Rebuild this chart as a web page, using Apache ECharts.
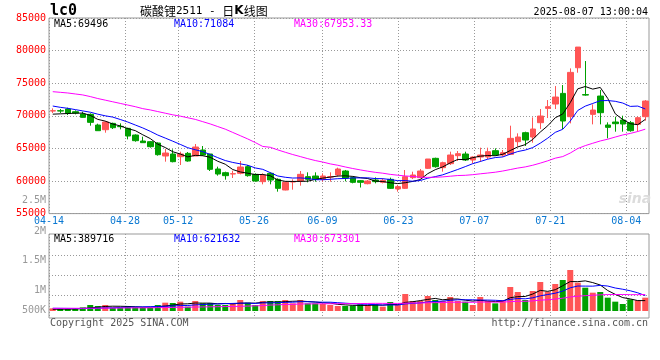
<!DOCTYPE html>
<html><head><meta charset="utf-8">
<script src="https://cdn.jsdelivr.net/npm/echarts@6/dist/echarts.min.js"></script>
<style>html,body{margin:0;padding:0;background:#fff}#c{width:660px;height:360px}</style>
</head><body><div id="c"></div>
<script>
const dates = ['04-14','04-15','04-16','04-17','04-18','04-21','04-22','04-23','04-24','04-25','04-28','04-29','04-30',
'05-06','05-07','05-08','05-09','05-12','05-13','05-14','05-15','05-16','05-19','05-20','05-21','05-22','05-23','05-26','05-27','05-28','05-29','05-30',
'06-03','06-04','06-05','06-06','06-09','06-10','06-11','06-12','06-13','06-16','06-17','06-18','06-19','06-20','06-23','06-24','06-25','06-26','06-27','06-30',
'07-01','07-02','07-03','07-04','07-07','07-08','07-09','07-10','07-11','07-14','07-15','07-16','07-17','07-18','07-21','07-22','07-23','07-24','07-25','07-28','07-29','07-30','07-31',
'08-01','08-04','08-05','08-06','08-07'];
const tickIdx = [0,10,17,27,36,46,56,66,76];

const opens = [70730,70782,71038,70629,70271,70220,68585,67870,68840,68380,68074,67052,66132,66030,65825,63832,64139,63730,64241,63832,
64752,64139,61840,61277,61073,61175,62197,61022,59898,61175,60255,58620,59850,60000,60664,60766,60255,60620,60920,61533,
60511,60050,59590,60150,59800,60255,58774,58876,60511,60511,61942,63475,62044,62657,63884,64139,63219,63679,63679,64650,
63986,64088,66030,67410,66745,68943,71140,71804,73439,69862,77374,73250,70220,73030,68585,69045,69351,68943,68687,69862];
const closes = [70782,70730,70373,70424,69760,68994,67716,69045,68176,68329,66899,66183,65877,65264,64037,64292,62964,64139,63066,65212,
63986,61788,61073,60818,61124,62146,60818,60000,60920,60153,58876,59796,59898,61022,60255,60255,60766,60664,61840,60450,
59796,59800,60000,59900,60100,58876,59131,60664,60920,61533,63373,62197,62811,63986,64190,63219,63679,63986,64497,63986,
64343,66541,66745,66285,67972,69965,71395,72877,69198,76659,80542,73180,70884,70475,68227,68790,68738,67716,69709,72264];
const highs = [71140,71040,71242,70833,70629,70373,68789,69198,68943,68840,68176,67154,66797,66132,65928,64906,64854,64497,64445,65672,
65366,64139,62197,61430,61584,63066,62453,61175,61175,61328,60409,60000,60255,61533,61328,61328,61175,61328,62044,61690,
60664,60150,60150,60560,60410,60511,59390,61686,61430,61840,63373,63577,62964,64497,64599,64497,63781,65110,65110,65008,
64752,68482,67307,67563,69760,71038,72417,74563,74716,77272,80542,78400,71753,73950,68994,69862,70015,69198,69862,72417];
const lows = [70420,70420,70118,70220,69709,68482,67716,67409,67972,67920,66388,66030,65877,65110,63884,62964,62862,62453,62964,63832,
63832,61533,60818,60204,60460,61022,60664,59898,59489,59489,58365,58570,58672,59285,59796,59898,59898,59898,60664,59950,
59643,59000,59490,59640,59640,58774,58365,58774,60300,60410,61840,62044,61430,62453,63066,63066,62708,62964,63373,63884,
63730,63986,65264,65366,65877,67972,69658,71038,67972,68840,76608,73080,68687,68687,66541,67563,67563,67563,67563,69249];
const volumes = [108000,81000,81000,81000,149000,244000,203000,244000,135000,135000,203000,149000,149000,135000,244000,338000,325000,379000,176000,406000,
311000,325000,244000,244000,325000,447000,338000,244000,406000,406000,406000,447000,311000,447000,311000,311000,284000,244000,203000,203000,
217000,271000,244000,271000,176000,365000,244000,690000,406000,406000,609000,447000,406000,568000,406000,379000,244000,568000,406000,311000,
447000,974000,771000,447000,812000,1177000,785000,1096000,1259000,1665000,1150000,947000,744000,771000,541000,379000,284000,474000,433000,541000];

// moving-average values for the first days (before a full window exists)
const ma5Head = [70250,70300,70350,70400];
const ma10Head = [71500,71300,71150,70950,70750,70550,70250,70000,69800];
const ma30Head = [73700,73600,73500,73350,73200,72950,72650,72400,72150,71900,71650,71400,71100,70900,70650,70400,70150,69950,69700,69450,69100,68750,68350,67950,67450,66950,66450,65900,65300];
const vma5Head = [70000,72000,75000,80000];
const vma10Head = [110000,108000,105000,102000,100000,105000,115000,125000,130000];
const vma30Head = [108000,108000,108000,110000,110000,112000,115000,118000,120000,122000,125000,128000,130000,132000,135000,140000,145000,150000,155000,160000,165000,170000,175000,180000,185000,190000,200000,210000,220000];

const priceLegend = ['MA5:69496','MA10:71084','MA30:67953.33'];
const volLegend = ['MA5:389716','MA10:621632','MA30:673301'];
const volLabels = ['2.5M','2M','1.5M','1M','500K'];

function ma(arr, n, head){
  return arr.map((_, i) => {
    if (i < head.length) return head[i];
    let s = 0; for (let k = i - n + 1; k <= i; k++) s += arr[k];
    return +(s / n).toFixed(2);
  });
}
const candle = opens.map((o, i) => [o, closes[i], lows[i], highs[i]]);
const RED = '#ff5555', GREEN = '#00a000';
const volData = volumes.map((v, i) => ({value: v, itemStyle: {color: closes[i] >= opens[i] ? RED : GREEN}}));

const MONO = 'DejaVu Sans Mono';
const gridLine = () => ({show: true, lineStyle: {color: '#999', type: [1, 2], width: 1, opacity: 1}});
const txt = (x, y, s, color, align) => ({type: 'text', x, y, style: {text: s, fill: color, font: '10px "' + MONO + '"', textAlign: align || 'left', textVerticalAlign: 'middle'}});

const chart = echarts.init(document.getElementById('c'), null, {renderer: 'canvas'});
chart.setOption({
  animation: false,
  backgroundColor: '#fff',
  grid: [
    {left: 49, top: 18, width: 600, height: 195.6, show: true, borderColor: '#999', borderWidth: 1, backgroundColor: 'rgba(0,0,0,0)', z: -1},
    {left: 49, top: 234, width: 600, height: 84, show: true, borderColor: '#999', borderWidth: 1, backgroundColor: 'rgba(0,0,0,0)', z: -1}
  ],
  xAxis: [
    {type: 'category', gridIndex: 0, data: dates, boundaryGap: true, position: 'top', axisLine: {show: false}, axisTick: {show: false}, axisLabel: {show: false}, splitLine: {show: false}},
    {type: 'value', gridIndex: 0, min: 0, max: 79, position: 'bottom', axisLine: {show: false, onZero: false},
      axisTick: {show: false, customValues: tickIdx},
      axisLabel: {customValues: tickIdx, formatter: v => dates[Math.round(v)], color: '#0a78d2', fontFamily: MONO, fontSize: 10, margin: 3},
      splitLine: gridLine()},
    {type: 'category', gridIndex: 1, data: dates, boundaryGap: true, position: 'top', axisLine: {show: false}, axisTick: {show: false}, axisLabel: {show: false}, splitLine: {show: false}},
    {type: 'value', gridIndex: 1, min: 0, max: 79, position: 'bottom', axisLine: {show: false, onZero: false},
      axisTick: {show: false, customValues: tickIdx}, axisLabel: {show: false}, splitLine: gridLine()}
  ],
  yAxis: [
    {type: 'value', gridIndex: 0, min: 55000, max: 85000, interval: 5000, axisLine: {show: false}, axisTick: {show: false},
      axisLabel: {color: '#ff0000', fontFamily: MONO, fontSize: 10, margin: 3, padding: [0, 0, 5, 0], formatter: v => String(v)}, splitLine: gridLine()},
    {type: 'value', gridIndex: 1, min: -284200, max: 3126200, axisLine: {show: false}, axisTick: {show: false, customValues: [637000, 1449000, 2245000]},
      axisLabel: {show: false}, splitLine: gridLine()}
  ],
  series: [
    {type: 'candlestick', xAxisIndex: 0, yAxisIndex: 0, data: candle, barWidth: 6,
      itemStyle: {color: RED, color0: GREEN, borderColor: RED, borderColor0: GREEN, borderWidth: 1}},
    {type: 'line', xAxisIndex: 0, yAxisIndex: 0, data: ma(closes, 5, ma5Head), symbol: 'none', lineStyle: {color: '#000', width: 1}},
    {type: 'line', xAxisIndex: 0, yAxisIndex: 0, data: ma(closes, 10, ma10Head), symbol: 'none', lineStyle: {color: '#0000ff', width: 1}},
    {type: 'line', xAxisIndex: 0, yAxisIndex: 0, data: ma(closes, 30, ma30Head), symbol: 'none', lineStyle: {color: '#ff00ff', width: 1}},
    {type: 'bar', xAxisIndex: 2, yAxisIndex: 1, data: volData, barWidth: 6},
    {type: 'line', xAxisIndex: 2, yAxisIndex: 1, data: ma(volumes, 5, vma5Head), symbol: 'none', lineStyle: {color: '#000', width: 1}},
    {type: 'line', xAxisIndex: 2, yAxisIndex: 1, data: ma(volumes, 10, vma10Head), symbol: 'none', lineStyle: {color: '#0000ff', width: 1}},
    {type: 'line', xAxisIndex: 2, yAxisIndex: 1, data: ma(volumes, 30, vma30Head), symbol: 'none', lineStyle: {color: '#ff00ff', width: 1}}
  ],
  graphic: [
    {type: 'text', x: 50, y: 11, style: {text: 'lc0', fill: '#000', font: 'bold 15px "' + MONO + '"', textVerticalAlign: 'middle'}},
    {type: 'text', x: 140, y: 11, style: {
      text: '{a|碳酸锂}{b|2511}{c| - }{a|日}{k|K}{a|线图}', textVerticalAlign: 'middle',
      rich: {a: {fontFamily: 'Noto Sans CJK SC', fontSize: 12, color: '#000'},
             b: {fontFamily: MONO, fontSize: 11, color: '#777'},
             c: {fontFamily: MONO, fontSize: 11, color: '#000'},
             k: {fontFamily: 'DejaVu Sans', fontSize: 12, fontWeight: 'bold', color: '#000'}}}},
    txt(648, 12, '2025-08-07 13:00:04', '#000', 'right'),
    txt(54, 24, priceLegend[0], '#000'),
    txt(174, 24, priceLegend[1], '#0000ff'),
    txt(294, 24, priceLegend[2], '#ff00ff'),
    txt(54, 239, volLegend[0], '#000'),
    txt(174, 239, volLegend[1], '#0000ff'),
    txt(294, 239, volLegend[2], '#ff00ff'),
    txt(46, 200.5, volLabels[0], '#999', 'right'),
    txt(46, 231, volLabels[1], '#999', 'right'),
    txt(46, 260.7, volLabels[2], '#999', 'right'),
    txt(46, 290.7, volLabels[3], '#999', 'right'),
    txt(46, 310.7, volLabels[4], '#999', 'right'),
    txt(50, 323, 'Copyright 2025 SINA.COM', '#555'),
    txt(648, 323, 'http://finance.sina.com.cn', '#555', 'right'),
    {type: 'text', x: 635, y: 199, style: {text: 'sina', fill: '#dcdcdc', font: 'italic bold 14px "DejaVu Sans"', textAlign: 'center', textVerticalAlign: 'middle'}}
  ]
});
</script></body></html>
